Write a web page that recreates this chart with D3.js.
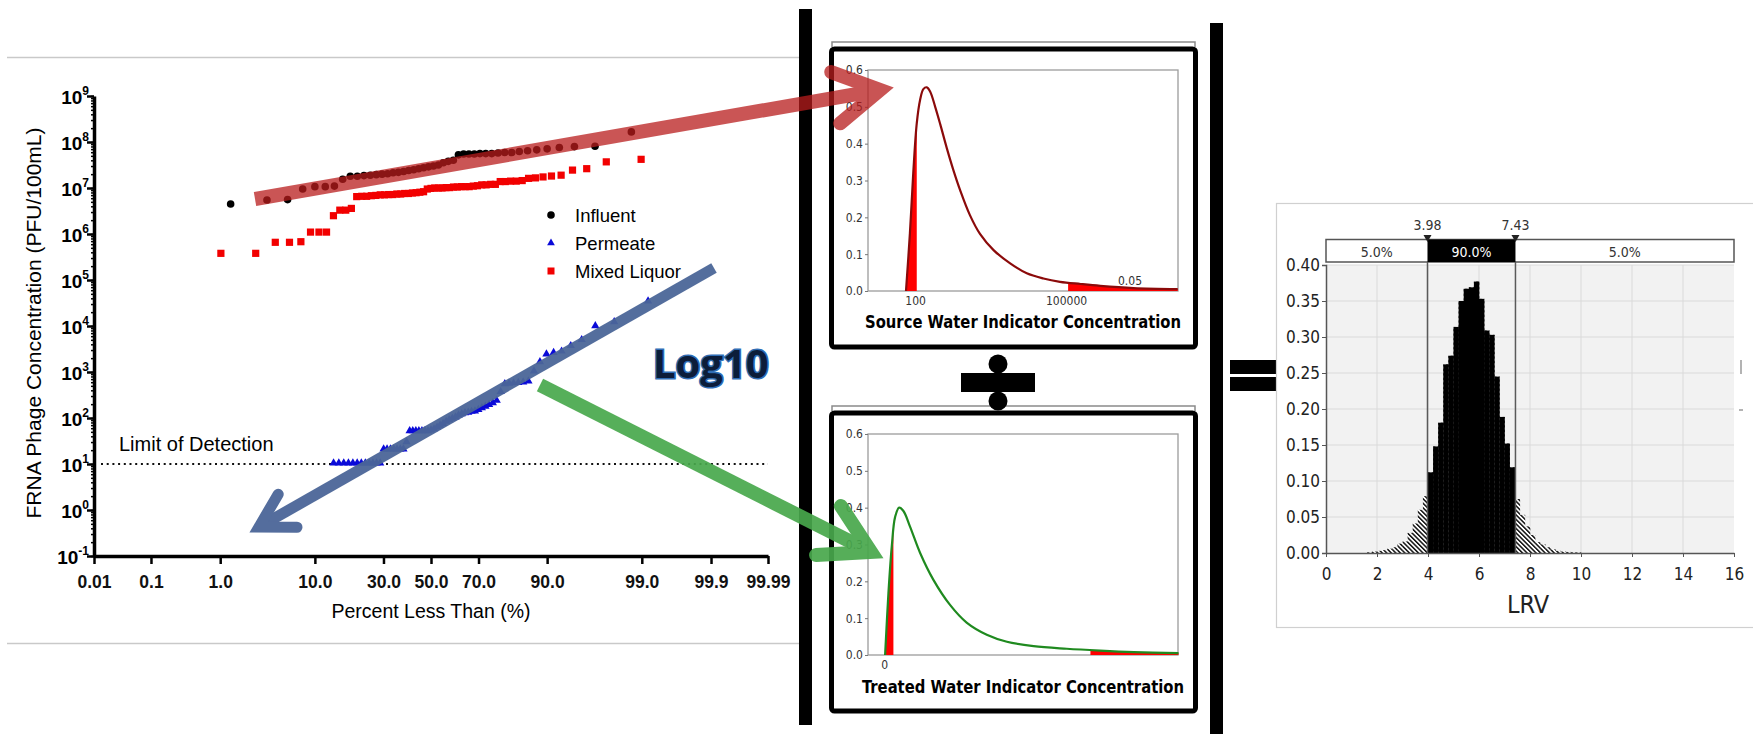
<!DOCTYPE html>
<html>
<head>
<meta charset="utf-8">
<script src="https://cdn.jsdelivr.net/npm/d3@7"></script>
<style>
  body { margin: 0; background: #fff; }
  svg { display: block; }
</style>
</head>
<body>
<script>
// ---------------------------------------------------------------------------
// Probability plot: FRNA phage (PFU/100mL), sorted values per series
// ---------------------------------------------------------------------------
const influent = [4.5e6, 5.5e6, 5.6e6, 9.5e6, 1.07e7, 1.07e7, 1.1e7, 1.55e7, 1.8e7, 1.8e7,
  1.86e7, 1.9e7, 1.95e7, 2.0e7, 2.04e7, 2.14e7, 2.19e7, 2.29e7, 2.4e7, 2.5e7,
  2.63e7, 2.75e7, 2.88e7, 3.0e7, 3.16e7, 3.55e7, 3.8e7, 4.0e7, 5.25e7, 5.5e7,
  5.5e7, 5.5e7, 5.6e7, 5.6e7, 5.6e7, 5.75e7, 5.9e7, 5.9e7, 6.2e7, 6.45e7,
  6.75e7, 7.1e7, 7.6e7, 7.95e7, 8.1e7, 1.66e8];
const mixedLiquor = [3.8e5, 3.8e5, 6.6e5, 6.6e5, 6.8e5, 1.1e6, 1.1e6, 1.1e6, 2.5e6, 3.3e6,
  3.3e6, 3.6e6, 6.5e6, 6.6e6, 6.6e6, 6.8e6, 6.9e6, 7.1e6, 7.1e6, 7.2e6,
  7.2e6, 7.4e6, 7.4e6, 7.6e6, 7.6e6, 7.8e6, 7.9e6, 8.1e6, 8.3e6, 9.5e6,
  9.8e6, 1.0e7, 1.0e7, 1.0e7, 1.02e7, 1.02e7, 1.05e7, 1.05e7, 1.07e7, 1.07e7,
  1.07e7, 1.1e7, 1.12e7, 1.17e7, 1.17e7, 1.2e7, 1.2e7, 1.38e7, 1.38e7, 1.41e7,
  1.41e7, 1.45e7, 1.62e7, 1.66e7, 1.74e7, 1.82e7, 1.9e7, 2.45e7, 2.63e7, 3.7e7, 4.2e7];
// only the detected permeate samples are plotted (the lowest ones are below detection)
const permeate = [10, 10, 10, 10, 10, 10, 10, 10, 10, 10, 10, 10,
  20, 20, 20, 20, 20, 20, 20, 29, 50, 50, 50, 50, 50, 50, 50,
  52, 55, 60, 66, 72, 80, 87, 93, 100, 110, 117, 123, 126, 132, 135, 145, 158, 170,
  186, 204, 229, 355, 525, 537, 550, 562, 575, 603, 1000, 1585, 2344, 2512, 2692,
  3548, 4786, 9550, 11750, 33100];
const nInfluent = 46, nMixed = 61, nPermeate = 75, permeateNonDetects = 10;
const detectionLimit = 10;

const pctTicks = [0.01, 0.1, 1, 10, 30, 50, 70, 90, 99, 99.9, 99.99];
const pctTickLabels = ["0.01", "0.1", "1.0", "10.0", "30.0", "50.0", "70.0", "90.0", "99.0", "99.9", "99.99"];
const concExponents = [-1, 0, 1, 2, 3, 4, 5, 6, 7, 8, 9];
const legendNames = ["Influent", "Permeate", "Mixed Liquor"];

// ---------------------------------------------------------------------------
// Density panels
// ---------------------------------------------------------------------------
const srcConc = [66, 79, 92, 108, 126, 146, 171, 200, 251, 316, 427, 575, 785, 1230,
  1950, 3630, 7760, 16600, 35500, 75900, 195000, 479000, 2190000, 16600000];
const srcDensity = [0, 0.157, 0.32, 0.455, 0.519, 0.548, 0.553, 0.541, 0.5, 0.453, 0.388,
  0.329, 0.274, 0.206, 0.155, 0.111, 0.075, 0.048, 0.034, 0.025, 0.019, 0.014, 0.008, 0.005];
const srcTails = [108, 110000];
const srcTicks = [100, 100000];

const trtLogConc = [0.02, 0.086, 0.152, 0.219, 0.298, 0.384, 0.517, 0.716, 0.98, 1.31, 1.64,
  2.04, 2.44, 2.97, 3.63, 4.29, 4.96, 5.85];
const trtDensity = [0, 0.168, 0.294, 0.375, 0.4, 0.391, 0.348, 0.277, 0.204, 0.136, 0.088,
  0.055, 0.036, 0.024, 0.017, 0.012, 0.008, 0.005];
const trtTails = [0.185, 4.1];
const trtTicks = [0];
const densityTicks = [0, 0.1, 0.2, 0.3, 0.4, 0.5, 0.6];

// ---------------------------------------------------------------------------
// LRV histogram
// ---------------------------------------------------------------------------
const lrvBins = [1.6, 1.8, 2.0, 2.2, 2.4, 2.6, 2.8, 3.0, 3.2, 3.4, 3.6, 3.8, 4.0, 4.2, 4.4,
  4.6, 4.8, 5.0, 5.2, 5.4, 5.6, 5.8, 6.0, 6.2, 6.4, 6.6, 6.8, 7.0, 7.2, 7.4, 7.6, 7.8,
  8.0, 8.2, 8.4, 8.6, 8.8, 9.0, 9.2, 9.4, 9.6, 9.8];
const lrvFreq = [0.001, 0.002, 0.003, 0.004, 0.006, 0.008, 0.013, 0.016, 0.028, 0.041, 0.06,
  0.079, 0.112, 0.148, 0.181, 0.262, 0.274, 0.314, 0.35, 0.367, 0.369, 0.377, 0.353,
  0.309, 0.303, 0.245, 0.189, 0.152, 0.119, 0.075, 0.053, 0.037, 0.025, 0.015, 0.012,
  0.008, 0.005, 0.003, 0.002, 0.0015, 0.001, 0.0008];
const lrvBinWidth = 0.2;
const lrvLimits = [3.98, 7.43];
const bandLabels = ["5.0%", "90.0%", "5.0%"];

// ---------------------------------------------------------------------------
const W = 1753, H = 734;
const ARIAL = "'Liberation Sans', Arial, sans-serif";
const TAHOMA = "'DejaVu Sans Condensed', 'DejaVu Sans', sans-serif";

const svg = d3.select("body").append("svg")
  .attr("width", W).attr("height", H)
  .attr("viewBox", `0 0 ${W} ${H}`);
svg.append("rect").attr("width", W).attr("height", H).attr("fill", "#fff");

const defs = svg.append("defs");

/** Inverse of the standard normal CDF (Acklam's approximation). */
function probit(p) {
  const a = [-3.969683028665376e+01, 2.209460984245205e+02, -2.759285104469687e+02,
    1.383577518672690e+02, -3.066479806614716e+01, 2.506628277459239e+00];
  const b = [-5.447609879822406e+01, 1.615858368580409e+02, -1.556989798598866e+02,
    6.680131188771972e+01, -1.328068155288572e+01];
  const c = [-7.784894002430293e-03, -3.223964580411365e-01, -2.400758277161838e+00,
    -2.549732539343734e+00, 4.374664141464968e+00, 2.938163982698783e+00];
  const d = [7.784695709041462e-03, 3.224671290700398e-01, 2.445134137142996e+00,
    3.754408661907416e+00];
  const plow = 0.02425;
  let q, r;
  if (p < plow) {
    q = Math.sqrt(-2 * Math.log(p));
    return (((((c[0]*q + c[1])*q + c[2])*q + c[3])*q + c[4])*q + c[5]) /
      ((((d[0]*q + d[1])*q + d[2])*q + d[3])*q + 1);
  }
  if (p > 1 - plow) {
    q = Math.sqrt(-2 * Math.log(1 - p));
    return -(((((c[0]*q + c[1])*q + c[2])*q + c[3])*q + c[4])*q + c[5]) /
      ((((d[0]*q + d[1])*q + d[2])*q + d[3])*q + 1);
  }
  q = p - 0.5; r = q * q;
  return (((((a[0]*r + a[1])*r + a[2])*r + a[3])*r + a[4])*r + a[5])*q /
    (((((b[0]*r + b[1])*r + b[2])*r + b[3])*r + b[4])*r + 1);
}

// Blom plotting position of the rank-th (0 based) value out of n, in percent
function blom(rank, n) { return 100 * (rank + 1 - 0.375) / (n + 0.25); }

// =========================== Left: probability plot ========================
(function drawProbabilityPlot() {
  const g = svg.append("g");

  // faint frame lines of the original image
  [57.5, 643.5].forEach(y => g.append("line")
    .attr("x1", 7).attr("x2", 800).attr("y1", y).attr("y2", y)
    .attr("stroke", "#c9c9c9").attr("stroke-width", 1.5));

  const x = d3.scaleLinear()
    .domain([probit(pctTicks[0] / 100), probit(pctTicks[pctTicks.length - 1] / 100)])
    .range([94, 768]);
  const y = d3.scaleLog().domain([0.1, 1e9]).range([556, 96]);
  const xPct = p => x(probit(p / 100));

  // Limit of detection
  g.append("line")
    .attr("x1", 101).attr("x2", 768)
    .attr("y1", y(detectionLimit)).attr("y2", y(detectionLimit))
    .attr("stroke", "#111").attr("stroke-width", 2)
    .attr("stroke-dasharray", "2,3.7");
  g.append("text")
    .attr("x", 119).attr("y", 451)
    .attr("font-family", ARIAL).attr("font-size", 20)
    .text("Limit of Detection");

  // y axis: minor then major ticks
  const yMinor = g.append("g").attr("transform", "translate(94,0)")
    .call(d3.axisLeft(y).tickValues(y.ticks(20)).tickSize(3).tickFormat(""));
  yMinor.select(".domain").remove();
  yMinor.selectAll("line").attr("stroke-width", 1.5);

  const yMajor = g.append("g").attr("transform", "translate(94,0)")
    .call(d3.axisLeft(y).tickValues(concExponents.map(e => Math.pow(10, e)))
      .tickSize(7).tickSizeOuter(0).tickFormat(""));
  yMajor.select(".domain").attr("stroke-width", 3.5);
  yMajor.selectAll("line").attr("stroke-width", 2.5);

  concExponents.forEach(e => {
    const t = g.append("text")
      .attr("x", 89).attr("y", y(Math.pow(10, e)) + 8)
      .attr("text-anchor", "end")
      .attr("font-family", ARIAL).attr("font-weight", "bold").attr("font-size", 19);
    t.append("tspan").text("10");
    t.append("tspan").attr("dy", -9).attr("font-size", 12).text(e);
  });

  // x axis
  const xAxis = g.append("g").attr("transform", "translate(0,556)")
    .call(d3.axisBottom(x)
      .tickValues(pctTicks.map(p => probit(p / 100)))
      .tickSize(8).tickSizeOuter(0)
      .tickFormat((d, i) => pctTickLabels[i]));
  xAxis.select(".domain").attr("stroke-width", 3.5);
  xAxis.selectAll("line").attr("stroke-width", 2.5);
  xAxis.selectAll("text")
    .attr("y", 20)
    .attr("font-family", ARIAL).attr("font-weight", "bold").attr("font-size", 17.5)
    .attr("fill", "#111");

  g.append("text")
    .attr("x", 431).attr("y", 618)
    .attr("text-anchor", "middle")
    .attr("font-family", ARIAL).attr("font-size", 19.5)
    .text("Percent Less Than (%)");
  g.append("text")
    .attr("transform", "translate(41,323) rotate(-90)")
    .attr("text-anchor", "middle")
    .attr("font-family", ARIAL).attr("font-size", 21)
    .text("FRNA Phage Concentration (PFU/100mL)");

  // points
  const tri = d3.symbol().type(d3.symbolTriangle).size(30);
  g.append("g").selectAll("path")
    .data(permeate.map((v, i) => ({ p: blom(i + permeateNonDetects, nPermeate), v })))
    .enter().append("path")
    .attr("d", tri)
    .attr("transform", d => `translate(${xPct(d.p)},${y(d.v) - 1})`)
    .attr("fill", "#0a0ad8");

  g.append("g").selectAll("rect")
    .data(mixedLiquor.map((v, i) => ({ p: blom(i, nMixed), v })))
    .enter().append("rect")
    .attr("x", d => xPct(d.p) - 3.6).attr("y", d => y(d.v) - 3.6)
    .attr("width", 7.2).attr("height", 7.2)
    .attr("fill", "#f20000");

  g.append("g").selectAll("circle")
    .data(influent.map((v, i) => ({ p: blom(i, nInfluent), v })))
    .enter().append("circle")
    .attr("cx", d => xPct(d.p)).attr("cy", d => y(d.v))
    .attr("r", 3.8).attr("fill", "#000");

  // legend
  const lg = g.append("g").attr("font-family", ARIAL).attr("font-size", 18.5);
  legendNames.forEach((name, i) => {
    const ly = 222 + i * 28;
    if (i === 0) lg.append("circle").attr("cx", 551).attr("cy", ly - 7).attr("r", 3.8).attr("fill", "#000");
    if (i === 1) lg.append("path").attr("d", d3.symbol().type(d3.symbolTriangle).size(26))
      .attr("transform", `translate(551,${ly - 7})`).attr("fill", "#0a0ad8");
    if (i === 2) lg.append("rect").attr("x", 547.5).attr("y", ly - 10.5)
      .attr("width", 7).attr("height", 7).attr("fill", "#f20000");
    lg.append("text").attr("x", 575).attr("y", ly).text(name);
  });
})();

// =========================== Middle: density panels ========================
function drawDensityPanel(opts) {
  const g = svg.append("g");
  const top = opts.top;

  g.append("path")
    .attr("d", `M832,${top + 5}V${top}H1195V${top + 5}`)
    .attr("fill", "none").attr("stroke", "#8a8a8a").attr("stroke-width", 1.5);
  g.append("rect")
    .attr("x", 831.5).attr("y", top + 7).attr("width", 364).attr("height", 298)
    .attr("rx", 3).attr("fill", "#fff")
    .attr("stroke", "#000").attr("stroke-width", 5);

  const y = d3.scaleLinear().domain([0, 0.6]).range([top + 249, top + 28]);
  const x = opts.x;

  g.append("rect")
    .attr("x", 868).attr("y", top + 28).attr("width", 310).attr("height", 221)
    .attr("fill", "none").attr("stroke", "#9c9c9c").attr("stroke-width", 1.3);

  const yAx = g.append("g").attr("transform", "translate(868,0)")
    .call(d3.axisLeft(y).tickValues(densityTicks).tickSize(3).tickPadding(2)
      .tickFormat(d3.format(".1f")));
  yAx.select(".domain").remove();
  yAx.selectAll("line").attr("stroke", "#777");
  yAx.selectAll("text").attr("font-family", TAHOMA).attr("font-size", 12).attr("fill", "#333");

  const xAx = g.append("g").attr("transform", `translate(0,${top + 249})`)
    .call(d3.axisBottom(x).tickValues(opts.ticks).tickSize(0).tickPadding(5)
      .tickFormat(d => String(d)));
  xAx.select(".domain").remove();
  xAx.selectAll("text").attr("font-family", TAHOMA).attr("font-size", 12).attr("fill", "#333");

  const pts = opts.xs.map((v, i) => [x(v), y(opts.ys[i])]);

  // red tails, clipped to the tail ranges
  const clipId = "tail-" + opts.id;
  const clip = defs.append("clipPath").attr("id", clipId);
  clip.append("rect").attr("x", 860).attr("y", top).attr("width", x(opts.tails[0]) - 860).attr("height", 260);
  clip.append("rect").attr("x", x(opts.tails[1])).attr("y", top).attr("width", 1180 - x(opts.tails[1])).attr("height", 260);

  const smooth = d3.curveCatmullRom.alpha(0.5);
  const area = d3.area().x(d => d[0]).y0(y(0)).y1(d => Math.min(d[1], y(0))).curve(smooth);
  g.append("path").datum(pts)
    .attr("d", area).attr("fill", "#ff0000")
    .attr("clip-path", `url(#${clipId})`);

  g.append("path").datum(pts)
    .attr("d", d3.line().curve(smooth))
    .attr("fill", "none").attr("stroke", opts.color).attr("stroke-width", 2.2);

  if (opts.tailLabel) {
    g.append("text").attr("x", 1130).attr("y", top + 243)
      .attr("text-anchor", "middle")
      .attr("font-family", TAHOMA).attr("font-size", 12).attr("fill", "#333")
      .text(opts.tailLabel);
  }

  g.append("text")
    .attr("x", 1023).attr("y", opts.titleY)
    .attr("text-anchor", "middle")
    .attr("font-family", TAHOMA).attr("font-weight", "bold").attr("font-size", 18)
    .attr("textLength", opts.titleWidth).attr("lengthAdjust", "spacingAndGlyphs")
    .text(opts.title);
}

drawDensityPanel({
  id: "src", top: 42,
  x: d3.scaleLog().domain([11.6, 1.68e7]).range([868, 1178]),
  xs: srcConc, ys: srcDensity, tails: srcTails, ticks: srcTicks,
  color: "#8b0a0a", tailLabel: "0.05",
  title: "Source Water Indicator Concentration", titleY: 328, titleWidth: 316
});
drawDensityPanel({
  id: "trt", top: 406,
  x: d3.scaleLinear().domain([-0.32, 5.84]).range([868, 1178]),
  xs: trtLogConc, ys: trtDensity, tails: trtTails, ticks: trtTicks,
  color: "#1f8a1f", tailLabel: null,
  title: "Treated Water Indicator Concentration", titleY: 693, titleWidth: 322
});

// big separators and the divide / equals signs
svg.append("rect").attr("x", 799).attr("y", 9).attr("width", 13).attr("height", 716).attr("fill", "#000");
svg.append("rect").attr("x", 1210).attr("y", 23).attr("width", 13).attr("height", 711).attr("fill", "#000");
svg.append("circle").attr("cx", 998).attr("cy", 364).attr("r", 9.5).attr("fill", "#000");
svg.append("rect").attr("x", 961).attr("y", 373).attr("width", 74).attr("height", 19).attr("fill", "#000");
svg.append("circle").attr("cx", 998).attr("cy", 401).attr("r", 9.5).attr("fill", "#000");
svg.append("rect").attr("x", 1230).attr("y", 360).attr("width", 50).attr("height", 14).attr("fill", "#000");
svg.append("rect").attr("x", 1230).attr("y", 377).attr("width", 50).attr("height", 14).attr("fill", "#000");

// =========================== Right: LRV histogram ==========================
(function drawHistogram() {
  const g = svg.append("g");
  const x = d3.scaleLinear().domain([0, 16]).range([1326, 1734]);
  const y = d3.scaleLinear().domain([0, 0.4]).range([553, 265]);

  g.append("rect").attr("x", 1276.5).attr("y", 203.5).attr("width", 500).attr("height", 424)
    .attr("fill", "#fff").attr("stroke", "#d0d0d0").attr("stroke-width", 1.2);
  g.append("line").attr("x1", 1741).attr("x2", 1741).attr("y1", 360).attr("y2", 374)
    .attr("stroke", "#9a9a9a").attr("stroke-width", 1.5);
  g.append("line").attr("x1", 1739).attr("x2", 1743).attr("y1", 410).attr("y2", 410)
    .attr("stroke", "#9a9a9a").attr("stroke-width", 1.5);

  g.append("rect").attr("x", 1326).attr("y", 265).attr("width", 408).attr("height", 288)
    .attr("fill", "#f2f2f2");

  g.append("g").selectAll("line").data(x.ticks(8).slice(1, -1)).enter().append("line")
    .attr("x1", d => x(d)).attr("x2", d => x(d)).attr("y1", 265).attr("y2", 553)
    .attr("stroke", "#dadada").attr("stroke-width", 1);
  g.append("g").selectAll("line").data(y.ticks(8).slice(1)).enter().append("line")
    .attr("x1", 1326).attr("x2", 1734).attr("y1", d => y(d)).attr("y2", d => y(d))
    .attr("stroke", "#dadada").attr("stroke-width", 1);

  const hatch = defs.append("pattern").attr("id", "hatch")
    .attr("patternUnits", "userSpaceOnUse").attr("width", 3.2).attr("height", 3.2)
    .attr("patternTransform", "rotate(-45)");
  hatch.append("rect").attr("width", 3.2).attr("height", 3.2).attr("fill", "#fff");
  hatch.append("rect").attr("width", 1.5).attr("height", 3.2).attr("fill", "#111");

  const bars = lrvBins.map((b, i) => ({ b, f: lrvFreq[i] }));
  g.append("g").selectAll("rect").data(bars).enter().append("rect")
    .attr("x", d => x(d.b)).attr("width", x(lrvBinWidth) - x(0) + 0.3)
    .attr("y", d => y(d.f)).attr("height", d => y(0) - y(d.f))
    .attr("fill", "url(#hatch)");

  defs.append("clipPath").attr("id", "mid90")
    .append("rect").attr("x", x(lrvLimits[0])).attr("y", 200)
    .attr("width", x(lrvLimits[1]) - x(lrvLimits[0])).attr("height", 400);
  g.append("g").attr("clip-path", "url(#mid90)")
    .selectAll("rect").data(bars).enter().append("rect")
    .attr("x", d => x(d.b)).attr("width", x(lrvBinWidth) - x(0) + 0.3)
    .attr("y", d => y(d.f)).attr("height", d => y(0) - y(d.f))
    .attr("fill", "#000");

  // axes
  const yAx = g.append("g").attr("transform", "translate(1326,0)")
    .call(d3.axisLeft(y).ticks(8).tickSize(4).tickPadding(2).tickFormat(d3.format(".2f")));
  yAx.select(".domain").attr("stroke", "#555").attr("stroke-width", 1.5);
  yAx.selectAll("line").attr("stroke", "#555");
  yAx.selectAll("text").attr("font-family", TAHOMA).attr("font-size", 17).attr("fill", "#222");

  const xAx = g.append("g").attr("transform", "translate(0,553)")
    .call(d3.axisBottom(x).ticks(8).tickSize(4).tickSizeOuter(0).tickFormat(d3.format("d")));
  xAx.select(".domain").attr("stroke", "#555").attr("stroke-width", 1.5);
  xAx.selectAll("line").attr("stroke", "#555");
  xAx.selectAll("text").attr("y", 15)
    .attr("font-family", TAHOMA).attr("font-size", 17).attr("fill", "#222");

  g.append("text").attr("x", 1528).attr("y", 613).attr("text-anchor", "middle")
    .attr("font-family", TAHOMA).attr("font-size", 25).attr("fill", "#222").text("LRV");

  // limit lines and band
  lrvLimits.forEach(l => g.append("line")
    .attr("x1", x(l)).attr("x2", x(l)).attr("y1", 262).attr("y2", 553)
    .attr("stroke", "#5a5a5a").attr("stroke-width", 1.5));

  g.append("rect").attr("x", 1326).attr("y", 239.5).attr("width", 408).attr("height", 22.5)
    .attr("fill", "#fff").attr("stroke", "#555").attr("stroke-width", 1.5);
  g.append("rect").attr("x", x(lrvLimits[0])).attr("y", 239.5)
    .attr("width", x(lrvLimits[1]) - x(lrvLimits[0])).attr("height", 22.5).attr("fill", "#000");

  const bandCenters = [(x(0) + x(lrvLimits[0])) / 2, (x(lrvLimits[0]) + x(lrvLimits[1])) / 2,
    (x(lrvLimits[1]) + x(16)) / 2];
  bandLabels.forEach((t, i) => g.append("text")
    .attr("x", bandCenters[i]).attr("y", 256.5).attr("text-anchor", "middle")
    .attr("font-family", TAHOMA).attr("font-size", 14)
    .attr("fill", i === 1 ? "#fff" : "#333").text(t));

  lrvLimits.forEach(l => {
    g.append("path")
      .attr("d", `M${x(l) - 4},235L${x(l) + 4},235L${x(l)},242Z`).attr("fill", "#222");
    g.append("text").attr("x", x(l)).attr("y", 230).attr("text-anchor", "middle")
      .attr("font-family", TAHOMA).attr("font-size", 14).attr("fill", "#333")
      .text(d3.format(".2f")(l));
  });
})();

// =========================== Annotation arrows =============================
function drawArrow(from, tip, color, opacity, width, headLen) {
  const ang = Math.atan2(from[1] - tip[1], from[0] - tip[0]);
  const spread = Math.PI / 6;
  const w1 = [tip[0] + headLen * Math.cos(ang + spread), tip[1] + headLen * Math.sin(ang + spread)];
  const w2 = [tip[0] + headLen * Math.cos(ang - spread), tip[1] + headLen * Math.sin(ang - spread)];
  const g = svg.append("g").attr("opacity", opacity);
  g.append("path")
    .attr("d", `M${from[0]},${from[1]}L${tip[0]},${tip[1]}`)
    .attr("stroke", color).attr("stroke-width", width).attr("fill", "none");
  g.append("path")
    .attr("d", `M${w1[0]},${w1[1]}L${tip[0]},${tip[1]}L${w2[0]},${w2[1]}`)
    .attr("stroke", color).attr("stroke-width", width).attr("fill", "none")
    .attr("stroke-linejoin", "miter").attr("stroke-linecap", "round");
}

drawArrow([255, 199], [880, 90], "#b81c1c", 0.75, 14, 52);
drawArrow([714, 268], [259, 527], "#4b6698", 0.95, 11, 38);
drawArrow([540, 385], [871, 552], "#48a84c", 0.92, 14, 55);

svg.append("text")
  .attr("x", 653).attr("y", 378)
  .attr("font-family", "'Open Sans', sans-serif").attr("font-weight", "bold")
  .attr("font-size", 40)
  .attr("fill", "#0c1d3a").attr("stroke", "#2f6db5").attr("stroke-width", 3)
  .attr("paint-order", "stroke")
  .text("Log10");
</script>
</body>
</html>
